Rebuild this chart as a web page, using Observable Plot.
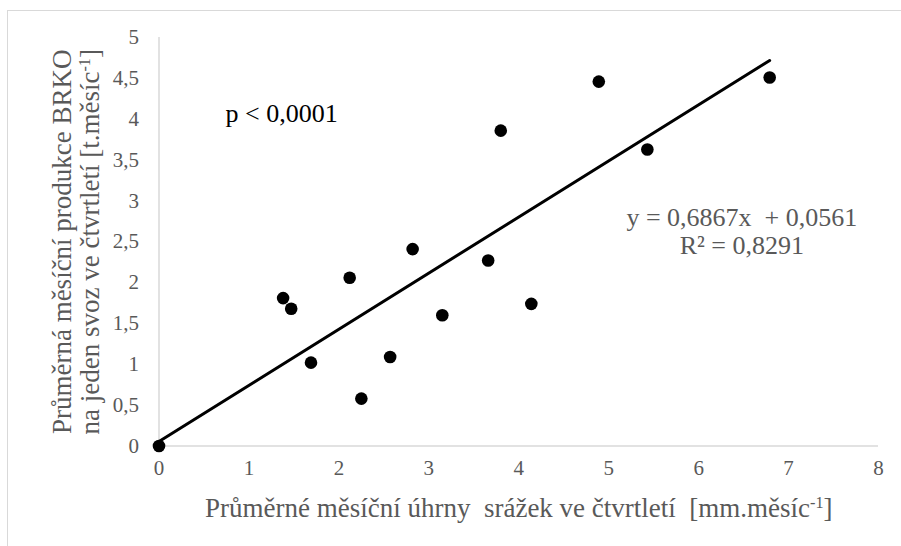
<!DOCTYPE html>
<html>
<head>
<meta charset="utf-8">
<script src="https://cdn.jsdelivr.net/npm/d3@7"></script>
<script src="https://cdn.jsdelivr.net/npm/@observablehq/plot@0.6"></script>
<style>
  html, body { margin: 0; padding: 0; background: #fff; }
  #wrap { position: relative; width: 901px; height: 546px; overflow: hidden; }
  #border { position: absolute; left: 7px; top: 10px; width: 1000px; height: 1000px;
            border-left: 1px solid #d9d9d9; border-top: 1px solid #d9d9d9; }
  #chart { position: absolute; left: 0; top: 0; }
  #chart svg text { font-family: "Liberation Serif", "Times New Roman", serif; }
</style>
</head>
<body>
<div id="wrap"><div id="border"></div><div id="chart"></div></div>
<script>
// Data
const precipitation = [0, 1.38, 1.47, 1.69, 2.12, 2.25, 2.57, 2.82, 3.15, 3.66, 3.80, 4.14, 4.89, 5.43, 6.79];
const production    = [0, 1.81, 1.68, 1.02, 2.06, 0.58, 1.09, 2.41, 1.60, 2.27, 3.86, 1.74, 4.46, 3.63, 4.51];
const xTicks = [0, 1, 2, 3, 4, 5, 6, 7, 8];
const yTicks = [0, 0.5, 1, 1.5, 2, 2.5, 3, 3.5, 4, 4.5, 5];
const slope = 0.6867, intercept = 0.0561;
const trendX = [0, 6.79];
const xTitle = "Průměrné měsíční úhrny\u00a0 srážek ve čtvrtletí\u00a0 [mm.měsíc^-1]";
const yTitle1 = "Průměrná měsíční produkce BRKO";
const yTitle2 = "na jeden svoz ve čtvrtletí [t.měsíc^-1]";
const pText = "p < 0,0001";
const eqText = "y = 0,6867x\u00a0 + 0,0561\nR² = 0,8291";

const serif = "Liberation Serif";
const points = precipitation.map((x, i) => ({x, y: production[i]}));
const trend = trendX.map(x => ({x, y: slope * x + intercept}));
const fmt = d => String(d).replace(".", ",");

const chart = Plot.plot({
  width: 901,
  height: 546,
  marginLeft: 158.5,
  marginRight: 23,
  marginTop: 37,
  marginBottom: 100.5,
  style: {fontFamily: serif, color: "#595959", background: "transparent", overflow: "visible"},
  x: {domain: [0, 8], ticks: xTicks},
  y: {domain: [0, 5], ticks: yTicks},
  marks: [
    Plot.ruleY([0], {x1: 0, x2: 8, stroke: "#d9d9d9", strokeWidth: 1.5}),
    Plot.ruleX([0], {y1: 0, y2: 5, stroke: "#d9d9d9", strokeWidth: 1.5}),
    Plot.axisX({ticks: xTicks, tickSize: 0, tickPadding: 14, fontSize: 21, fontFamily: serif, tickFormat: fmt, label: null}),
    Plot.axisY({ticks: yTicks, tickSize: 0, tickPadding: 20, fontSize: 21, fontFamily: serif, tickFormat: fmt, label: null}),
    Plot.line(trend, {x: "x", y: "y", stroke: "#000", strokeWidth: 3}),
    Plot.dot(points, {x: "x", y: "y", r: 6.3, fill: "#000", stroke: "none"}),
    Plot.text([pText], {x: 0.74, y: 4.065, fill: "#000", textAnchor: "start", fontSize: 26, fontFamily: serif, lineAnchor: "middle"}),
    Plot.text([eqText], {x: 6.48, y: 2.63, fill: "#595959", textAnchor: "middle", fontSize: 26, fontFamily: serif, lineHeight: 1.08, lineAnchor: "middle"}),
    Plot.text([xTitle], {frameAnchor: "bottom", dy: 62.5, fontSize: 27, fontFamily: serif, fill: "#595959", lineAnchor: "middle"}),
    Plot.text([yTitle1], {frameAnchor: "left", dx: -97, rotate: -90, fontSize: 27, fontFamily: serif, fill: "#595959", lineAnchor: "middle", textAnchor: "middle"}),
    Plot.text([yTitle2], {frameAnchor: "left", dx: -69, rotate: -90, fontSize: 27, fontFamily: serif, fill: "#595959", lineAnchor: "middle", textAnchor: "middle"})
  ]
});

// superscript "-1"
d3.select(chart).selectAll("text").each(function() {
  const el = this;
  if (el.children.length === 0 && el.textContent.includes("^-1")) {
    const [before, after] = el.textContent.split("^-1");
    el.textContent = "";
    const NS = "http://www.w3.org/2000/svg";
    const a = document.createElementNS(NS, "tspan"); a.textContent = before; el.appendChild(a);
    const b = document.createElementNS(NS, "tspan"); b.textContent = "-1";
    b.setAttribute("font-size", "0.6em"); b.setAttribute("dy", "-0.55em"); el.appendChild(b);
    const c = document.createElementNS(NS, "tspan"); c.textContent = after;
    c.setAttribute("dy", "0.33em"); el.appendChild(c);
  }
});

document.getElementById("chart").appendChild(chart);
</script>
</body>
</html>
